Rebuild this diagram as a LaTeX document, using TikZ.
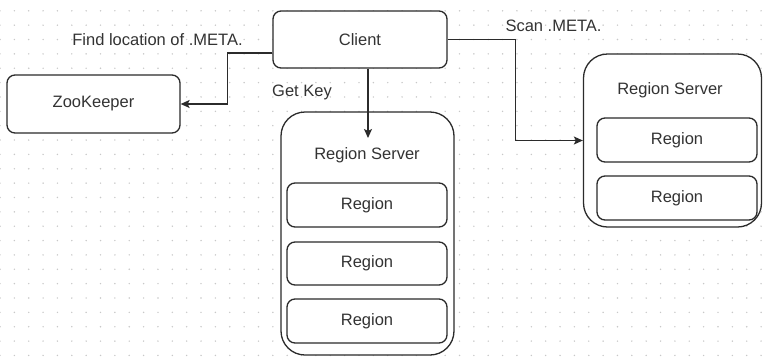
\documentclass[tikz,border=0pt]{standalone}
\usepackage{fontspec}
\setmainfont{Liberation Sans}
\usetikzlibrary{arrows.meta}
\definecolor{linec}{HTML}{2B2B2B}
\definecolor{textc}{HTML}{333333}
\definecolor{dotc}{HTML}{C8C8C8}
\begin{document}
\begin{tikzpicture}[x=1pt,y=-1pt,
  box/.style={draw=linec, line width=1.3pt, fill=white, rounded corners=8pt, inner sep=0pt,
              text=textc, font=\fontsize{16.5}{20}\selectfont},
  bigbox/.style={box, rounded corners=24pt},
  lbl/.style={text=textc, inner sep=0pt, font=\fontsize{16.5}{20}\selectfont},
  arr/.style={draw=linec, line width=1.3pt, -{Stealth[length=9pt,width=8pt,inset=2pt]}}]
\useasboundingbox[fill=white] (0,0) rectangle (764,357);
% dotted grid
\foreach \i in {0,...,53} {
  \foreach \j in {0,...,24} {
    \fill[dotc] (\i*14.36, 10.8+\j*14.36) circle (0.8);
  }
}
% nodes
\node[box, minimum width=174pt, minimum height=57pt] (client) at (360,39.5) {Client};
\node[box, minimum width=173pt, minimum height=58pt] (zk) at (93.5,104) {ZooKeeper};
\node[bigbox, minimum width=173pt, minimum height=243pt] (rs1) at (367.5,233.5) {};
\node[lbl] (rs1l) at (367,155) {Region Server};
\node[box, minimum width=160pt, minimum height=44pt] (r1a) at (367,205) {Region};
\node[box, minimum width=160pt, minimum height=43pt] (r1b) at (367,263.5) {Region};
\node[box, minimum width=160pt, minimum height=44pt] (r1c) at (367,321) {Region};
\node[bigbox, minimum width=178pt, minimum height=173pt] (rs2) at (672.5,140.5) {};
\node[lbl] (rs2l) at (670,90) {Region Server};
\node[box, minimum width=160pt, minimum height=44pt] (r2a) at (677,140) {Region};
\node[box, minimum width=160pt, minimum height=44pt] (r2b) at (677,198) {Region};
% labels
\node[lbl] (l1) at (157.5,40) {Find location of .META.};
\node[lbl] (l2) at (302,92) {Get Key};
\node[lbl] (l3) at (553.5,26) {Scan .META.};
% connectors
\coordinate (gk) at (368,138);
\draw[arr] ([yshift=-13.5pt]client.west) -- ++(-45,0) |- (zk.east);
\draw[arr] ([xshift=8pt]client.south) -- (gk);
\draw[arr] (client.east) -- ++(68,0) |- (rs2.west);
\end{tikzpicture}
\end{document}
